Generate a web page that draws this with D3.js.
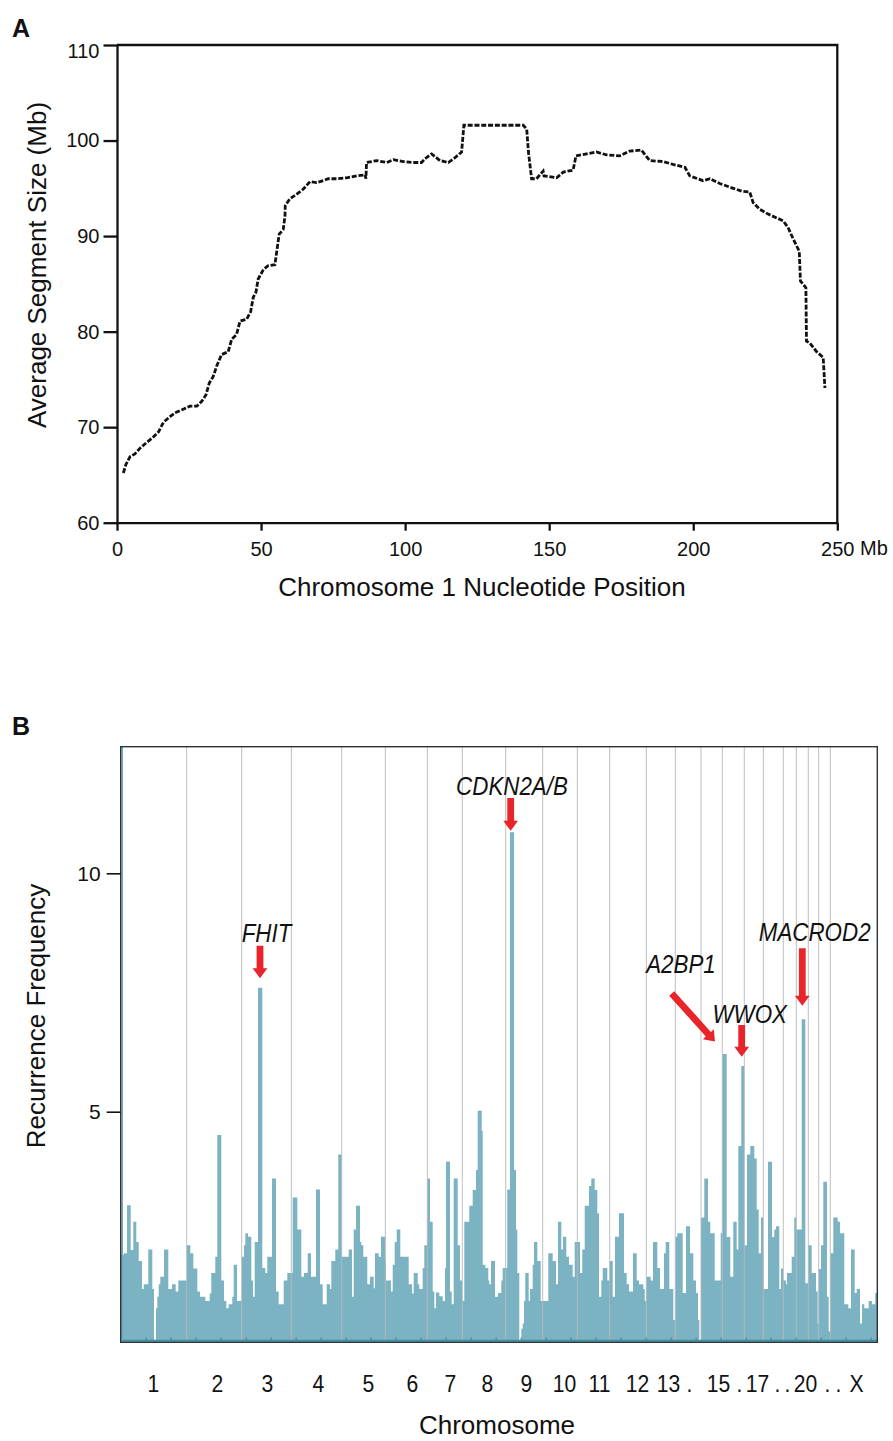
<!DOCTYPE html>
<html lang="en">
<head>
<meta charset="utf-8">
<title>Segment size and recurrence</title>
<script src="https://d3js.org/d3.v7.min.js"></script>
<style>
  body { margin: 0; background: #fff; }
  svg { display: block; font-family: "Liberation Sans", Arial, sans-serif; }
  .axisA path, .axisA line { stroke: #111; stroke-width: 2.3px; }
  .axisA text { font-size: 20px; fill: #111; font-family: "Liberation Sans", Arial, sans-serif; }
  .axisB line { stroke: #111; stroke-width: 1.6px; }
  .axisB path { display: none; }
  .axisB text { font-size: 21px; fill: #111; font-family: "Liberation Sans", Arial, sans-serif; }
  .chrom text { font-size: 23px; fill: #111; font-family: "Liberation Sans", Arial, sans-serif; }
  .chrom path, .chrom line { display: none; }
  .minor path { display: none; }
  .minor line { stroke: #3f8ea4; stroke-width: 1.2px; }
  .title { font-size: 26px; fill: #111; }
  .gene { font-size: 26px; font-style: italic; fill: #111; }
  .panel { font-size: 25px; font-weight: bold; fill: #111; }
</style>
</head>
<body>
<script>
// ---- panel A: average segment size along chromosome 1 ----
const posMb = [2.2, 3.1, 4.5, 6.2, 8, 10.3, 12.4, 14.4, 16.1, 18.4, 20.1, 22.4, 25.3, 27.7, 29.4, 30.9, 32, 33.4, 34.6, 36.3,
  38.6, 39.8, 41.5, 42.7, 45, 46.4, 47.3, 48.2, 49, 50.8, 52.5, 54.8, 55.4, 56.3, 57.7, 58.3, 58.4, 60, 62.4, 64.6,
  67, 69.3, 71.6, 73.3, 76.2, 79.7, 83.2, 86.1, 86.4, 86.6, 90.1, 93.6, 95.9, 99.3, 102.8, 105.7, 106.9, 109.2, 112.1, 115,
  117.3, 119.6, 120.4, 141, 142.2, 142.8, 143.9, 145.6, 147.9, 148.2, 152.6, 154.9, 158.3, 159.3, 163, 166.4, 169.9, 174.5, 178, 182,
  184.9, 189.6, 193, 197.1, 198.8, 203.4, 205.8, 209.2, 213.9, 216.8, 219.6, 220.8, 223.1, 226, 231.2, 232.9, 234.7, 236.8, 237.2, 239.1,
  239.3, 240.5, 242.8, 245.1, 245.7];
const avgSize = [65.2, 66.1, 66.9, 67.2, 67.8, 68.4, 68.9, 69.5, 70.5, 71.1, 71.5, 71.8, 72.2, 72.2, 72.7, 73.4, 74.6, 75.3, 76.4, 77.6,
  77.9, 79.2, 79.7, 81.1, 81.3, 82.1, 83.6, 84.1, 85.5, 86.5, 86.9, 87, 88.3, 90.2, 90.7, 92.1, 93.2, 93.9, 94.4, 94.9,
  95.7, 95.6, 95.8, 96, 96, 96.1, 96.3, 96.4, 96, 97.7, 97.9, 97.7, 98, 97.8, 97.7, 97.7, 98.1, 98.6, 97.9, 97.7,
  98.2, 98.8, 101.6, 101.6, 101.2, 98.8, 96, 96, 96.8, 96.3, 96.1, 96.7, 96.9, 98.4, 98.6, 98.8, 98.5, 98.4, 98.9, 99,
  97.9, 97.8, 97.5, 97.2, 96.3, 95.8, 96, 95.5, 95, 94.7, 94.6, 93.5, 92.8, 92.3, 91.6, 90.9, 89.7, 88.4, 85.3, 84.6,
  79, 78.8, 77.9, 77.3, 74.1];
const ticksA_x = [0, 50, 100, 150, 200, 250];
const ticksA_y = [60, 70, 80, 90, 100, 110];

// ---- panel B: recurrence frequency across the genome ----
const chromNames = ["1","2","3","4","5","6","7","8","9","10","11","12","13","14","15","16","17","18","19","20","21","22","X"];
const chromSize = [66, 55, 49.6, 50.4, 43.6, 42, 35, 43.4, 37, 34.6, 32.4, 36.6, 29, 25.7, 21.3, 22, 19, 20, 13, 12, 10.4, 11.6, 47];
const chromTickPos = [32.3, 96.3, 146.3, 197.3, 247.3, 291.3, 329.3, 366.3, 405.3, 443.3, 478.3, 516.3, 547.3, 568.3, 597.3, 618.3,
  636.3, 656.3, 666.3, 684.3, 706.3, 717.3, 735.3];
const chromTickLabel = ["1","2","3","4","5","6","7","8","9","10","11","12","13",".","15",".","17",".",".","20",".",".","X"];

// step start (genome units) and recurrence value of each bin run
const binStart = [0, 3.3, 6.3, 10, 12.6, 15.6, 18, 21.3, 23, 27.6, 31.6, 33.3, 35.3, 36.6, 38, 39.6, 43.3, 47.6, 51.3, 55, 57.6,
  66, 69.6, 72.6, 76.6, 79.3, 84.6, 89, 90.6, 94.6, 96.6, 100.6, 103.3, 105.6, 108, 111.6, 113, 116.3,
  121, 123.3, 124.6, 127.3, 130.6, 132.3, 134, 137.3, 141.6, 144.6, 146.6, 151.3, 155.3, 158, 163, 166.6,
  170.6, 172, 176.6, 180.6, 183.3, 187, 190.3, 195.3, 199.3, 202, 206, 209.3, 210.6, 214.6, 217.6,
  221, 228, 231.3, 233, 235.3, 239.3, 240.6, 242.6, 246.6, 249.3, 253, 254.3, 258, 260.3,
  264.6, 265.3, 270.3, 272, 274, 276, 279.6, 288, 291.3, 293, 297, 298.6, 302, 303.6,
  306.6, 309.3, 312, 313.6, 315.3, 318.6, 322, 324.3, 325.3, 329.3, 331, 333, 337, 339.3,
  341.6, 343.6, 348.6, 352, 355.3, 357, 361, 362, 364.6, 367.6, 368.6, 370.3, 374.3, 377.3, 380.6, 382,
  385, 386.6, 389.3, 393.3, 395.3, 396.6, 398.6, 400.6, 402, 403.3, 404.6, 408, 409.3, 412, 413.3, 416.6, 420,
  422, 426, 427.6, 432, 435.3, 437.3, 440.6, 442.3, 445.6, 448.3, 452, 454,
  456.6, 459.3, 461.6, 464, 468.3, 470.6, 474, 476.6, 478.3, 480.6, 482, 486.6,
  489, 492, 494.3, 498.3, 503.3, 506, 508.3, 512.3, 516, 518.3, 522.6, 524,
  525.6, 530, 532.3, 536.6, 539.3, 543.3, 545, 548.6, 552.6,
  554.6, 556.6, 562, 565.3, 569.3, 572.6, 575.3, 577.3, 578.6,
  580.3, 583.6, 587.3, 589.6, 594, 600,
  601.6, 606, 609.6, 612.6, 616, 617.6, 620.6,
  623.6, 626.3, 629.6, 633.6, 636, 638, 640.3,
  642.6, 647.3, 651.3, 653.6, 655.3, 658.6, 660.3,
  662.6, 665.3, 666.3, 671, 673.6,
  675.6, 681, 684.6,
  687.6, 691, 695.3, 697,
  698, 700.3, 702.6, 706.3, 708,
  709.6, 712.6, 717, 719.3, 723.6, 727.6, 730.3, 734, 736, 739.3, 741.3, 743.6, 748, 751.3, 754.6];
const binFreq = [2.0, 2.03, 3.04, 2.1, 2.69, 2.27, 1.87, 1.28, 1.38, 2.11, 1.28, 0.2, 0.88, 1.12, 1.38, 1.54, 2.11, 1.28, 1.38, 1.23, 1.46,
  2.2, 2.03, 1.71, 1.23, 1.12, 1.03, 1.19, 1.62, 1.96, 4.51, 1.46, 1.03, 0.88, 0.96, 1.12, 1.79, 1.03,
  1.96, 2.2, 2.45, 2.38, 1.46, 1.12, 2.27, 7.6, 1.72, 1.62, 1.96, 3.6, 1.23, 0.96, 1.46, 1.62,
  1.62, 3.2, 2.53, 1.54, 1.62, 2.03, 1.54, 3.37, 1.38, 0.96, 1.38, 1.28, 1.87, 2.11, 4.1,
  1.96, 2.11, 1.12, 2.53, 3.03, 2.27, 2.2, 1.96, 1.38, 1.54, 1.3, 2.03, 1.96, 2.38,
  1.87, 1.46, 1.23, 1.79, 2.27, 2.53, 1.96, 1.38, 1.19, 1.62, 1.38, 1.28, 1.72, 2.2,
  3.6, 2.69, 1.23, 0.88, 1.21, 1.13, 1.03, 1.72, 3.95, 1.23, 0.96, 3.6, 2.2, 1.46,
  1.03, 2.69, 3.03, 3.36, 3.78, 5.02, 4.6, 1.79, 1.72, 1.46, 1.38, 1.87, 1.12, 1.2, 1.46, 1.72,
  1.72, 3.37, 10.86, 3.78, 2.53, 1.62, 0.2, 0.45, 0.56, 1.03, 1.62, 1.03, 1.28, 1.79, 2.27, 1.87, 1.03,
  1.03, 1.03, 2.03, 1.87, 1.38, 2.69, 2.11, 2.38, 1.96, 1.79, 1.54, 2.27,
  2.27, 1.62, 2.11, 3.03, 3.44, 3.6, 3.36, 2.87, 1.12, 1.46, 1.72, 1.46,
  1.87, 1.12, 2.38, 2.87, 1.62, 1.38, 1.23, 2.03, 1.46, 1.38, 1.28, 1.03,
  1.54, 1.46, 2.27, 1.72, 1.28, 2.03, 2.27, 1.28, 0.63,
  2.38, 2.45, 1.2, 2.6, 2.03, 1.46, 1.2, 0.63, 0.2,
  2.78, 3.6, 2.69, 2.45, 1.46, 2.45,
  6.21, 2.37, 1.54, 2.69, 2.11, 4.28, 5.96,
  2.2, 4.1, 4.28, 4.02, 2.95, 2.03, 2.78,
  1.28, 3.95, 2.37, 2.53, 2.6, 1.28, 1.71,
  1.46, 1.38, 1.62, 1.96, 2.78,
  2.53, 6.94, 1.4,
  2.2, 1.62, 1.23, 0.56,
  1.7, 2.2, 3.53, 1.12, 0.39,
  2.03, 2.78, 2.69, 2.45, 0.96, 0.88, 2.11, 1.2, 1.28, 0.56, 0.96, 0.88, 1.03, 0.96, 1.2];
const minorTicks = d3.range(25, 756, 25);

// annotated genes: label anchor, arrow tail and arrow tip in (genome unit, frequency)
const geneName = ["FHIT", "CDKN2A/B", "A2BP1", "WWOX", "MACROD2"];
const geneLabelAt = [[145.8, 8.56], [391.3, 11.64], [560.3, 7.91], [629, 6.87], [694, 8.57]];
const arrowTail = [[139.3, 8.48], [390, 11.58], [551, 7.48], [621, 6.82], [681.6, 8.43]];
const arrowTip = [[139.3, 7.8], [390, 10.89], [594.3, 6.47], [621, 6.15], [681.6, 7.22]];

const svg = d3.select("body").append("svg").attr("width", 893).attr("height", 1441);

// ================= Panel A =================
const xA = d3.scaleLinear().domain([0, 250]).range([117, 837.3]);
const yA = d3.scaleLinear().domain([60, 110]).range([522.7, 45]);

svg.append("text").attr("class", "panel").attr("x", 12).attr("y", 37).text("A");

svg.append("path")
  .attr("d", `M${xA(0)},${yA(110)}H${xA(250)}V${yA(60)}`)
  .attr("fill", "none").attr("stroke", "#111").attr("stroke-width", 2.3);

svg.append("g").attr("class", "axisA")
  .attr("transform", `translate(0,${yA(60)})`)
  .call(d3.axisBottom(xA).tickValues(ticksA_x).tickSize(8).tickSizeOuter(0).tickPadding(11));
svg.append("g").attr("class", "axisA")
  .attr("transform", `translate(${xA(0)},0)`)
  .call(d3.axisLeft(yA).tickValues(ticksA_y).tickSize(13.5).tickSizeOuter(0).tickPadding(4))
  .selectAll(".tick text").filter(d => d === 110).attr("dy", "0.62em");

svg.append("text").attr("x", 860).attr("y", 555).style("font-size", "20px").attr("fill", "#111").text("Mb");

const lineA = d3.line().x(d => xA(d[0])).y(d => yA(d[1]));
svg.append("path")
  .datum(d3.zip(posMb, avgSize))
  .attr("d", lineA)
  .attr("fill", "none")
  .attr("stroke", "#111")
  .attr("stroke-width", 2.8)
  .attr("stroke-dasharray", "5,1.8");

svg.append("text").attr("class", "title")
  .attr("x", 482).attr("y", 596).attr("text-anchor", "middle")
  .text("Chromosome 1 Nucleotide Position");
svg.append("text").attr("class", "title")
  .attr("transform", "translate(46,265) rotate(-90)").attr("text-anchor", "middle")
  .text("Average Segment Size (Mb)");

// ================= Panel B =================
const total = d3.sum(chromSize);
const xB = d3.scaleLinear().domain([0, total]).range([120.7, 877.3]);
const yB = d3.scaleLinear().domain([0.164, 12.655]).range([1342.3, 746.7]);
const chromEnds = d3.cumsum(chromSize);

svg.append("text").attr("class", "panel").attr("x", 12).attr("y", 735).text("B");

const gB = svg.append("g");
const steps = binStart.map((s, i) => [s, binFreq[i]]);
steps.push([total, binFreq[binFreq.length - 1]]);
const barArea = d3.area()
  .curve(d3.curveStepAfter)
  .x(d => xB(d[0]))
  .y0(yB(0.164))
  .y1(d => yB(d[1]));
gB.append("path")
  .datum(steps)
  .attr("d", barArea)
  .attr("fill", "#7bb3c3");

// chromosome separators
gB.selectAll("line.sep")
  .data(chromEnds.slice(0, -1))
  .join("line")
  .attr("class", "sep")
  .attr("x1", d => xB(d)).attr("x2", d => xB(d))
  .attr("y1", yB.range()[1]).attr("y2", yB.range()[0] - 2)
  .attr("stroke", "#b9b9b9").attr("stroke-opacity", 0.9).attr("stroke-width", 1);

// baseline + minor ticks
gB.append("line")
  .attr("x1", xB(0)).attr("x2", xB(total))
  .attr("y1", yB(0.164) - 1.8).attr("y2", yB(0.164) - 1.8)
  .attr("stroke", "#3f8ea4").attr("stroke-width", 1.4);
svg.append("g").attr("class", "minor")
  .attr("transform", `translate(0,${yB(0.164) - 1.8})`)
  .call(d3.axisBottom(xB).tickValues(minorTicks).tickSize(-3).tickFormat(""));

// left teal edge and frame
gB.append("line")
  .attr("x1", xB(0) + 1.5).attr("x2", xB(0) + 1.5)
  .attr("y1", yB.range()[1]).attr("y2", yB.range()[0])
  .attr("stroke", "#6aaabd").attr("stroke-width", 1.6);
gB.append("rect")
  .attr("x", xB(0)).attr("y", yB.range()[1])
  .attr("width", xB(total) - xB(0)).attr("height", yB.range()[0] - yB.range()[1])
  .attr("fill", "none").attr("stroke", "#2e3436").attr("stroke-width", 1.4);

svg.append("g").attr("class", "axisB")
  .attr("transform", `translate(${xB(0)},0)`)
  .call(d3.axisLeft(yB).tickValues([5, 10]).tickSize(14).tickSizeOuter(0).tickPadding(6));

svg.append("g").attr("class", "chrom")
  .attr("transform", `translate(0,${yB.range()[0]})`)
  .call(d3.axisBottom(xB).tickValues(chromTickPos).tickFormat((d, i) => chromTickLabel[i]).tickSize(0).tickPadding(33))
  .selectAll("text").attr("transform", "scale(0.92,1)");

// gene arrows
function arrowPoints(a, b) {
  const dx = b[0] - a[0], dy = b[1] - a[1], L = Math.hypot(dx, dy);
  const ux = dx / L, uy = dy / L, px = -uy, py = ux;
  const hs = 3.4, hh = 7.4, hl = 10;
  const bx = b[0] - ux * hl, by = b[1] - uy * hl;
  return [
    [a[0] + px * hs, a[1] + py * hs], [bx + px * hs, by + py * hs], [bx + px * hh, by + py * hh],
    b, [bx - px * hh, by - py * hh], [bx - px * hs, by - py * hs], [a[0] - px * hs, a[1] - py * hs]
  ];
}
svg.selectAll("polygon.arrow")
  .data(geneName)
  .join("polygon")
  .attr("class", "arrow")
  .attr("points", (d, i) => arrowPoints(
      [xB(arrowTail[i][0]), yB(arrowTail[i][1])],
      [xB(arrowTip[i][0]), yB(arrowTip[i][1])]).map(p => p.join(",")).join(" "))
  .attr("fill", "#e8252b");

svg.selectAll("text.gene")
  .data(geneName)
  .join("text")
  .attr("class", "gene")
  .attr("text-anchor", "middle")
  .attr("transform", (d, i) => `translate(${xB(geneLabelAt[i][0])},${yB(geneLabelAt[i][1])}) scale(0.86,1)`)
  .text(d => d);

svg.append("text").attr("class", "title")
  .attr("x", 497).attr("y", 1434).attr("text-anchor", "middle").text("Chromosome");
svg.append("text").attr("class", "title")
  .attr("transform", "translate(45,1016) rotate(-90)").attr("text-anchor", "middle")
  .text("Recurrence Frequency");
</script>
</body>
</html>
